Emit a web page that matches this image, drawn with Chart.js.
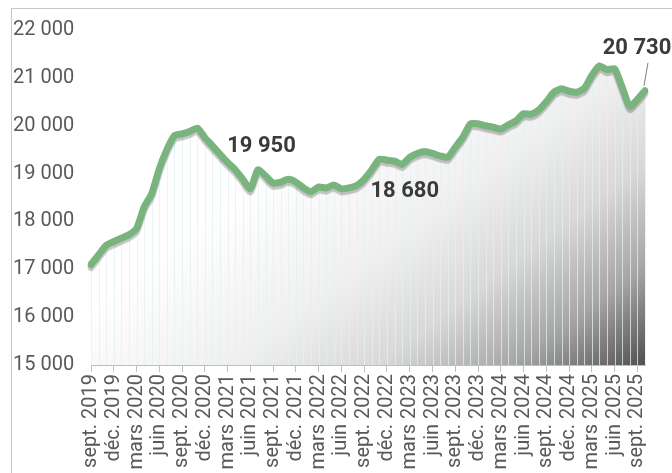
<!DOCTYPE html>
<html>
<head>
<meta charset="utf-8">
<script src="https://cdn.jsdelivr.net/npm/chart.js@4"></script>
<style>
  html, body { margin: 0; padding: 0; background: #fff; overflow: hidden; }
  #frame { position: absolute; left: 11px; top: 8px; width: 700px; height: 500px; border: 1px solid #c6c6c6; }
  #wrap { position: absolute; left: 0; top: 0; width: 672px; height: 473px; }
</style>
</head>
<body>
<div id="frame"></div>
<div id="wrap"><canvas id="chart" width="672" height="473"></canvas></div>
<script>
// mois, sept. 2019 -> oct. 2025
const months = [
  'sept. 2019', 'oct. 2019', 'nov. 2019', 'déc. 2019',
  'janv. 2020', 'févr. 2020', 'mars 2020', 'avr. 2020', 'mai 2020', 'juin 2020', 'juil. 2020', 'août 2020', 'sept. 2020', 'oct. 2020', 'nov. 2020', 'déc. 2020',
  'janv. 2021', 'févr. 2021', 'mars 2021', 'avr. 2021', 'mai 2021', 'juin 2021', 'juil. 2021', 'août 2021', 'sept. 2021', 'oct. 2021', 'nov. 2021', 'déc. 2021',
  'janv. 2022', 'févr. 2022', 'mars 2022', 'avr. 2022', 'mai 2022', 'juin 2022', 'juil. 2022', 'août 2022', 'sept. 2022', 'oct. 2022', 'nov. 2022', 'déc. 2022',
  'janv. 2023', 'févr. 2023', 'mars 2023', 'avr. 2023', 'mai 2023', 'juin 2023', 'juil. 2023', 'août 2023', 'sept. 2023', 'oct. 2023', 'nov. 2023', 'déc. 2023',
  'janv. 2024', 'févr. 2024', 'mars 2024', 'avr. 2024', 'mai 2024', 'juin 2024', 'juil. 2024', 'août 2024', 'sept. 2024', 'oct. 2024', 'nov. 2024', 'déc. 2024',
  'janv. 2025', 'févr. 2025', 'mars 2025', 'avr. 2025', 'mai 2025', 'juin 2025', 'juil. 2025', 'août 2025', 'sept. 2025', 'oct. 2025'
];

const values = [
  17100, 17300, 17500, 17580,
  17650, 17720, 17850, 18300, 18580, 19100, 19500, 19790, 19830, 19880, 19950, 19750,
  19580, 19400, 19230, 19080, 18880, 18680, 19080, 18950, 18800, 18820, 18880, 18820,
  18700, 18620, 18720, 18700, 18760, 18680, 18700, 18750, 18880, 19080, 19300, 19280,
  19260, 19190, 19340, 19420, 19460, 19420, 19370, 19340, 19550, 19760, 20040, 20040,
  20000, 19970, 19930, 20020, 20100, 20250, 20240, 20330, 20500, 20700, 20770, 20720,
  20700, 20780, 21050, 21250, 21170, 21190, 20800, 20400, 20550, 20730
];

const yTicks = [15000, 16000, 17000, 18000, 19000, 20000, 21000, 22000];

// points annotés
const labelIdx = [14, 33, 73];
const labelText = ['19 950', '18 680', '20 730'];

const green = '#79b47f';
const fmt = v => String(v).replace(/\B(?=(\d{3})+(?!\d))/g, ' ');

Chart.defaults.font.family = 'Roboto';
Chart.defaults.color = '#595959';

const dropLines = {
  id: 'dropLines',
  afterDatasetDraw(chart, args) {
    if (args.index !== 0) return;
    const { ctx, chartArea } = chart;
    ctx.save();
    ctx.strokeStyle = 'rgba(226,240,240,0.75)';
    ctx.lineWidth = 1;
    args.meta.data.forEach(pt => {
      const x = Math.round(pt.x) + 0.5;
      ctx.beginPath();
      ctx.moveTo(x, pt.y);
      ctx.lineTo(x, chartArea.bottom);
      ctx.stroke();
    });
    ctx.restore();
  }
};

const lineShadow = {
  id: 'lineShadow',
  beforeDatasetDraw(chart, args) {
    if (args.index !== 1) return;
    const ctx = chart.ctx;
    ctx.save();
    ctx.shadowColor = 'rgba(0,0,0,0.22)';
    ctx.shadowOffsetY = 3;
    ctx.shadowBlur = 1;
  },
  afterDatasetDraw(chart, args) {
    if (args.index !== 1) return;
    chart.ctx.restore();
  }
};

// décalages des étiquettes par rapport au point
const labelStyle = {
  14: { dx: 30, dy: 18, align: 'left' },
  33: { dx: 29, dy: 3, align: 'left' },
  73: { dx: -8, dy: -42, align: 'center', leader: true }
};

const pointLabels = {
  id: 'pointLabels',
  afterDatasetsDraw(chart) {
    const { ctx } = chart;
    const meta = chart.getDatasetMeta(1);
    ctx.save();
    ctx.font = 'bold 22px Roboto';
    ctx.fillStyle = '#3a3a3a';
    ctx.textBaseline = 'middle';
    labelIdx.forEach((idx, k) => {
      const pt = meta.data[idx];
      const s = labelStyle[idx];
      const tx = pt.x + s.dx, ty = pt.y + s.dy;
      ctx.textAlign = s.align;
      ctx.fillText(labelText[k], tx, ty);
      if (s.leader) {
        ctx.strokeStyle = '#7f7f7f';
        ctx.lineWidth = 1;
        ctx.beginPath();
        ctx.moveTo(pt.x + 3, ty + 14);
        ctx.lineTo(pt.x - 1, pt.y - 5);
        ctx.stroke();
      }
    });
    ctx.restore();
  }
};

// dégradé blanc -> gris foncé vers le coin bas droit
function areaGradient(context) {
  const a = context.chart.chartArea;
  if (!a) return 'rgba(0,0,0,0)';
  const ex = a.right, ey = a.bottom;
  const sx = ex - 0.6 * 380, sy = ey - 0.8 * 380;
  const g = context.chart.ctx.createLinearGradient(sx, sy, ex, ey);
  g.addColorStop(0, '#ffffff');
  g.addColorStop(0.34, '#f0f0f0');
  g.addColorStop(0.58, '#d8d8d8');
  g.addColorStop(0.79, '#a6a6a6');
  g.addColorStop(1, '#505050');
  return g;
}

new Chart(document.getElementById('chart'), {
  type: 'line',
  data: {
    labels: months,
    datasets: [
      {
        data: values,
        borderWidth: 0,
        pointRadius: 0,
        fill: 'start',
        backgroundColor: areaGradient,
        tension: 0.2,
        order: 2
      },
      {
        data: values,
        borderColor: green,
        borderWidth: 7,
        pointRadius: 0,
        fill: false,
        tension: 0.2,
        borderJoinStyle: 'round',
        borderCapStyle: 'round',
        order: 1
      }
    ]
  },
  options: {
    responsive: false,
    animation: false,
    layout: { padding: { left: 13, top: 30, right: 27, bottom: 0 } },
    plugins: { legend: { display: false }, tooltip: { enabled: false } },
    scales: {
      x: {
        offset: false,
        grid: { drawOnChartArea: false, color: '#bfbfbf', tickLength: 7 },
        border: { color: '#bfbfbf' },
        ticks: {
          autoSkip: false,
          maxRotation: 90,
          minRotation: 90,
          padding: 2,
          font: { size: 20 },
          callback: (v, i) => (i % 3 === 0 ? months[i] : null)
        },
        afterFit: s => { s.height = 108; }
      },
      y: {
        min: yTicks[0],
        max: yTicks[yTicks.length - 1],
        afterBuildTicks: s => { s.ticks = yTicks.map(v => ({ value: v })); },
        grid: { display: false, drawTicks: false },
        border: { display: false },
        ticks: {
          crossAlign: 'far',
          font: { size: 20 },
          callback: v => fmt(v)
        },
        afterFit: s => { s.width = 78; }
      }
    }
  },
  plugins: [dropLines, lineShadow, pointLabels]
});
</script>
</body>
</html>
